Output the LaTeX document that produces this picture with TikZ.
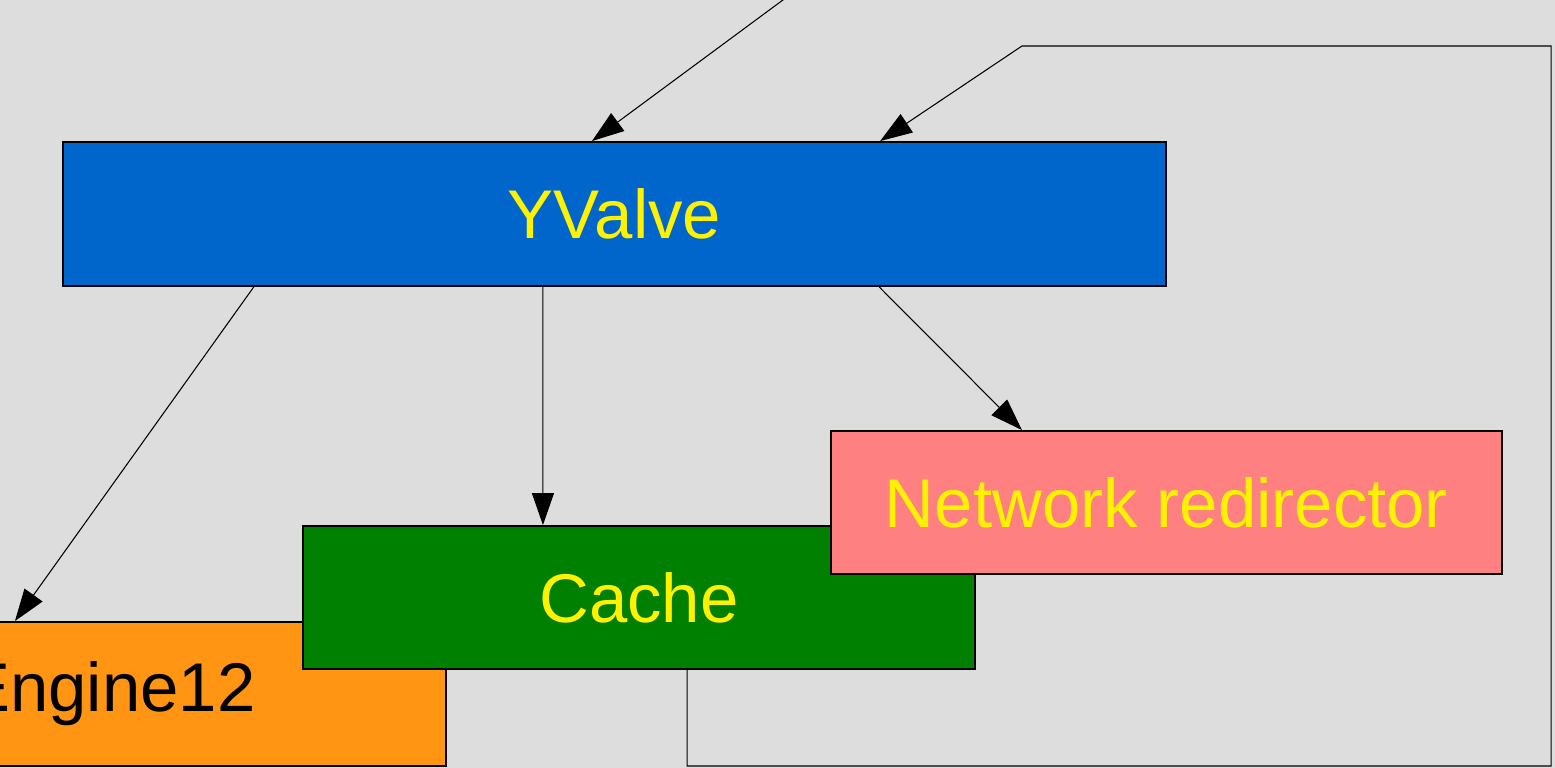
\documentclass[tikz,border=0pt]{standalone}
\usepackage{fontspec}
\setmainfont{Liberation Sans}
\usetikzlibrary{arrows.meta}
\definecolor{bggray}{HTML}{DDDDDD}
\definecolor{valveblue}{HTML}{0066CC}
\definecolor{cachegreen}{HTML}{008000}
\definecolor{redirpink}{HTML}{FF8080}
\definecolor{engorange}{HTML}{FF9512}
\newcommand{\blocklabel}[1]{\fontsize{19.6}{22}\selectfont #1}

\begin{document}
\begin{tikzpicture}[x = 0.01cm, y = -0.01cm,
    box/.style = {rectangle, draw = black, line width = 0.5pt, inner sep = 0pt, text = yellow},
    link/.style = {draw = black, line width = 0.3pt, -{Triangle[length = 0.32cm, width = 0.22cm]}}]

	\useasboundingbox (0, 0) rectangle (1555, 768);
	\clip (0, 0) rectangle (1555, 768);
	\fill[bggray] (0, 0) rectangle (1555, 768);

	\node (ENG) at ( 110,   694) [box, fill = engorange,  text = black, minimum width = 6.72cm,  minimum height = 1.44cm] {\blocklabel{Engine12}};
	\node (CCH) at ( 639,   597.5) [box, fill = cachegreen, minimum width = 6.72cm,  minimum height = 1.43cm] {\blocklabel{Cache}};
	\node (NET) at (1166.5, 502.5) [box, fill = redirpink,  minimum width = 6.71cm,  minimum height = 1.43cm] {\blocklabel{Network redirector}};
	\node (YV)  at ( 614.5, 214) [box, fill = valveblue,  minimum width = 11.03cm, minimum height = 1.44cm] {\blocklabel{YValve}};

	\coordinate (IN) at (810, -20);

	% into the valve
	\draw[link] (IN) -- ([xshift = -0.225cm]YV.north);
	\draw[link] ([xshift = 0.48cm]CCH.south) |- (1551, 766) |- (1022, 46) -- ([xshift = 2.655cm]YV.north);

	% out of the valve
	\foreach \from/\to/\dest in {-3.605cm/-0.95cm/ENG, -0.715cm/-0.96cm/CCH, 2.645cm/-1.445cm/NET}
		\path ([xshift = \from]YV.south) edge [link] ([xshift = \to]\dest.north);

\end{tikzpicture}
\end{document}
